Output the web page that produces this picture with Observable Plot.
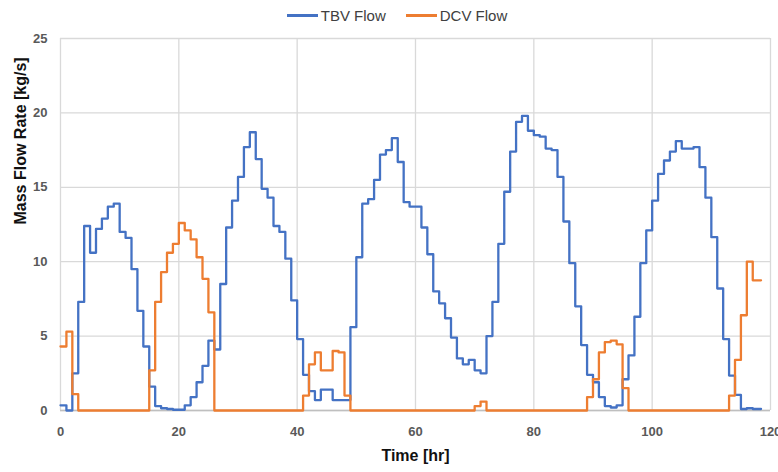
<!DOCTYPE html>
<html>
<head>
<meta charset="utf-8">
<script src="https://cdn.jsdelivr.net/npm/d3@7"></script>
<script src="https://cdn.jsdelivr.net/npm/@observablehq/plot@0.6"></script>
<style>
  html, body { margin: 0; padding: 0; background: #fff; }
  body { width: 778px; height: 472px; overflow: hidden; font-family: "Liberation Sans", Arial, sans-serif; }
  #legend { height: 30px; display: flex; align-items: center; justify-content: center; padding-left: 16px; box-sizing: border-box; font-size: 15px; color: #404040; }
  .item { display: flex; align-items: center; margin: 0 10px; }
  .sw { width: 31px; height: 3px; margin-right: 3px; }
</style>
</head>
<body>
<div id="legend"></div>
<div id="chart"></div>
<script>
const seriesNames = ["TBV Flow", "DCV Flow"];
const seriesColors = ["#4472C4", "#ED7D31"];

const hours = [0,1,2,3,4,5,6,7,8,9,10,11,12,13,14,15,16,17,18,19,20,21,22,23,24,25,26,27,28,29,
  30,31,32,33,34,35,36,37,38,39,40,41,42,43,44,45,46,47,48,49,50,51,52,53,54,55,56,57,58,59,
  60,61,62,63,64,65,66,67,68,69,70,71,72,73,74,75,76,77,78,79,80,81,82,83,84,85,86,87,88,89,
  90,91,92,93,94,95,96,97,98,99,100,101,102,103,104,105,106,107,108,109,110,111,112,113,114,115,116,117,118,118.4];

const tbvFlow = [0.35,0.0,2.5,7.3,12.4,10.6,12.2,12.9,13.7,13.9,
  12.0,11.6,9.5,6.7,4.3,1.6,0.3,0.15,0.1,0.05,
  0.05,0.35,0.9,1.9,3.0,4.7,4.1,8.5,12.3,14.1,
  15.7,17.7,18.7,16.9,14.9,14.3,12.4,12.0,10.2,7.4,
  4.8,2.4,1.3,0.7,1.4,1.4,0.7,0.7,0.7,5.6,
  10.3,13.9,14.2,15.5,17.2,17.5,18.3,16.7,14.0,13.7,
  13.7,12.3,10.5,8.0,7.2,6.2,4.9,3.5,3.1,3.4,
  2.7,2.5,5.0,7.3,11.2,14.7,17.4,19.4,19.8,18.8,
  18.5,18.4,17.6,17.5,15.7,12.7,9.9,7.0,4.4,2.4,
  1.9,0.9,0.3,0.2,0.35,2.1,3.7,6.3,9.9,12.1,
  14.1,15.9,16.8,17.4,18.1,17.6,17.6,17.7,16.35,14.3,
  11.65,8.2,4.8,2.35,1.05,0.1,0.15,0.1,0.1,0.1];

const dcvFlow = [4.3,5.3,1.1,0,0,0,0,0,0,0,
  0,0,0,0,0,2.7,7.3,9.3,10.6,11.2,
  12.6,12.1,11.5,10.3,8.85,6.6,0,0,0,0,
  0,0,0,0,0,0,0,0,0,0,
  0,1.0,3.1,3.9,2.7,2.7,4.0,3.9,1.0,0,
  0,0,0,0,0,0,0,0,0,0,
  0,0,0,0,0,0,0,0,0,0,
  0.3,0.6,0,0,0,0,0,0,0,0,
  0,0,0,0,0,0,0,0,0,0.9,
  2.1,3.9,4.6,4.7,4.45,1.5,0,0,0,0,
  0,0,0,0,0,0,0,0,0,0,
  0,0,0,1.0,3.4,6.4,10.0,8.75,8.75,8.75];

const xTicks = [0,20,40,60,80,100,120];
const yTicks = [0,5,10,15,20,25];
const xTitle = "Time [hr]";
const yTitle = "Mass Flow Rate [kg/s]";

const rows = hours.map((t, i) => ({t, tbv: tbvFlow[i], dcv: dcvFlow[i]}));

// legend
const legend = document.getElementById("legend");
seriesNames.forEach((n, i) => {
  const it = document.createElement("div");
  it.className = "item";
  const sw = document.createElement("div");
  sw.className = "sw";
  sw.style.background = seriesColors[i];
  const lb = document.createElement("span");
  lb.textContent = n;
  it.appendChild(sw); it.appendChild(lb);
  legend.appendChild(it);
});

const tickStyle = {fontSize: 13, fontWeight: "bold", fill: "#595959"};

const chart = Plot.plot({
  width: 778,
  height: 442,
  marginLeft: 60,
  marginRight: 8,
  marginTop: 8,
  marginBottom: 62,
  style: {fontFamily: "'Liberation Sans', Arial, sans-serif", background: "#fff"},
  x: {domain: [0, 120]},
  y: {domain: [0, 25]},
  marks: [
    Plot.gridX(xTicks, {stroke: "#d9d9d9", strokeOpacity: 1, strokeWidth: 1.3}),
    Plot.gridY(yTicks, {stroke: "#d9d9d9", strokeOpacity: 1, strokeWidth: 1.3}),
    Plot.ruleY([0], {stroke: "#bfbfbf", strokeWidth: 1.3}),
    Plot.axisX(xTicks, {tickSize: 0, tickPadding: 16, label: null, ...tickStyle}),
    Plot.axisY(yTicks, {tickSize: 0, tickPadding: 13, label: null, ...tickStyle}),
    Plot.line(rows, {x: "t", y: "tbv", curve: "step-after", stroke: seriesColors[0], strokeWidth: 2.3}),
    Plot.line(rows, {x: "t", y: "dcv", curve: "step-after", stroke: seriesColors[1], strokeWidth: 2.3}),
    Plot.text([xTitle], {frameAnchor: "bottom", dy: 50, fontSize: 16, fontWeight: "bold", fill: "#111"}),
    Plot.text([yTitle], {frameAnchor: "left", dx: -40, rotate: -90, fontSize: 16, fontWeight: "bold", fill: "#111"})
  ]
});
document.getElementById("chart").appendChild(chart);
</script>
</body>
</html>
